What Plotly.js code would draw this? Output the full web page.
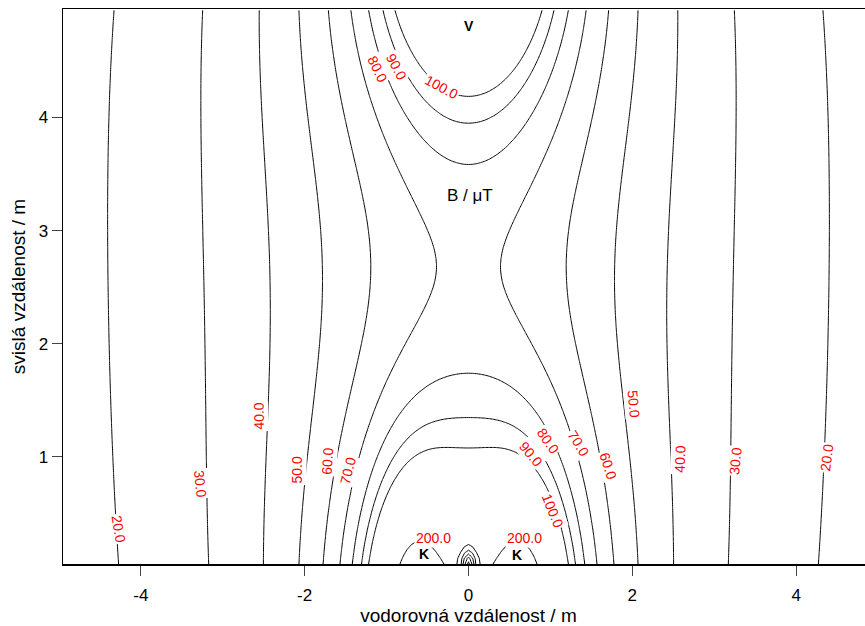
<!DOCTYPE html>
<html><head><meta charset="utf-8">
<script src="https://cdn.plot.ly/plotly-3.0.1.min.js"></script>
<style>html,body{margin:0;padding:0;overflow:hidden;background:#fff}#chart{width:880px;height:626px}</style>
</head><body><div id="chart"></div>
<script>
// contour levels (µT)
const lowLevels = [20, 30, 40, 50, 60, 70, 80, 90, 100];
const highLevels = [200, 300, 400, 500, 600, 700];
const xTickVals = [-4, -2, 0, 2, 4];
const xTickText = ['-4', '-2', '0', '2', '4'];
const yTickVals = [1, 2, 3, 4];
const yTickText = ['1', '2', '3', '4'];
const xTitle = 'vodorovná vzdálenost / m';
const yTitle = 'svislá vzdálenost / m';
const fieldLabel = 'B / μT';
const markNames = ['V', 'K', 'K'];
const markX = [0, -0.54, 0.59];
const markY = [4.81, 0.14, 0.13];
// contour value labels as placed in the picture (text, x, y, angle in degrees clockwise)
const labelText = ['80.0', '90.0', '100.0', '80.0', '90.0', '70.0', '60.0', '100.0', '50.0', '40.0', '30.0', '20.0',
  '40.0', '50.0', '60.0', '70.0', '30.0', '20.0', '200.0', '200.0'];
const labelX = [-1.11, -0.875, -0.33, 0.97, 0.76, 1.34, 1.71, 1.03, 2.01, 2.58, 3.26, 4.37,
  -2.56, -2.09, -1.72, -1.47, -3.27, -4.27, -0.43, 0.68];
const labelY = [4.43, 4.45, 4.27, 1.135, 1.02, 1.12, 0.92, 0.52, 1.47, 0.98, 0.96, 0.99,
  1.36, 0.88, 0.96, 0.87, 0.76, 0.36, 0.28, 0.28];
const labelAngle = [64, 62, 28, 55, 50, 58, 72, 68, 85, -88, -84, -83,
  -91, -90, -86, -76, 84, 81, 0, 0];

// contour crossings: level (µT), |x| (m), y (m), weight
const readLevel = [100,90,80,70,60,50,40,30,20, 80,90,100, 100,90,80, 70,70,70, 60,50,40,30,20, 74,
  80,90,100, 80,90,70,60,50,40,30,20,40,30,20,
  100,90,80,70,60,50,40,30,20,
  200,200,200,200,200,260, 200,300,400,500,600,200, 170,150];
const readX = [0.95,1.08,1.24,1.44,1.68,2.0,2.45,3.11,4.24, 1.12,0.875,0.33, 0,0,0, 0.84,0.41,0.62, 1.26,1.87,2.52,3.33,4.52, 0,
  0,0,0, 1.09,0.77,1.36,1.70,2.0,2.54,3.27,4.27,2.6,3.27,4.39,
  1.2,1.29,1.42,1.56,1.76,2.0,2.43,3.06,4.15,
  0.30,0.83,0.70,0.35,0.50,0.57, 0,0,0,0,0,0.13, 0.2,1.0];
const readY = [4.96,4.96,4.96,4.96,4.96,4.96,4.96,4.96,4.96, 4.43,4.445,4.25, 4.21,3.98,3.62, 3.53,2.73,2.2, 2.73,2.73,2.73,2.73,2.73, 2.73,
  1.72,1.32,1.04, 1.03,1.03,1.0,0.9,1.5,1.36,0.8,0.6,0.99,0.91,1.0,
  0.06,0.06,0.06,0.06,0.06,0.06,0.06,0.06,0.06,
  0.06,0.06,0.24,0.21,0.29,0.05, 0.21,0.174,0.139,0.109,0.08,0.06, 0.06,0.06];
const readWeight = [1,1,1,1,1,1,1,1,1.5, 1,1,1.5, 4,4,4, 1,1.5,1, 1,1,1,1,1.5, 0.5,
  1.5,1.5,1.5, 1,1,1,1,1,1,1,1,1,1,1,
  1,1,1,1,1,1,1,1,1.5,
  0.8,0.8,0.6,0.6,0.6,0.5, 0.5,0.4,0.4,0.4,0.4,1.2, 0.5,0.3];

// field model fitted to the readings: line above (V), cable pair (K), broad lower source, narrow bump at the centre
function S(A, c, al, q, dx, dy) {
  const r = Math.sqrt(al * dx * dx + dy * dy + 1e-6);
  return A / (r * Math.pow(1 + (r / c) * (r / c), q / 2));
}
function field(p, x, y) {
  const e = Math.exp;
  const gx = x / e(p[15]), gy = (y - p[14]) / e(p[16]);
  return S(e(p[1]), e(p[2]), e(p[3]), p[17], x, y - p[0]) +
    S(e(p[4]), e(p[7]), e(p[8]), 1, x - p[5], y - p[6]) +
    S(e(p[4]), e(p[7]), e(p[8]), 1, x + p[5], y - p[6]) +
    S(e(p[9]), e(p[11]), e(p[12]), p[18], x, y - p[10]) +
    e(p[13]) * Math.exp(-0.5 * (gx * gx + gy * gy));
}
function cost(p) {
  let s = 0;
  for (let i = 0; i < readLevel.length; i++) {
    const b = field(p, readX[i], readY[i]);
    const d = Math.log(b) - Math.log(readLevel[i]);
    s += readWeight[i] * d * d;
  }
  const pen = (v) => (v > 0 ? 1000 * v * v : 0);
  s += pen(5.0 - p[0]) + pen(p[6] - 0.0) + pen(p[10] - 0.0) + pen(p[14] - 0.05);
  s += pen(Math.abs(p[3]) - 2) + pen(Math.abs(p[8]) - 1.5) + pen(Math.abs(p[12]) - 2) + pen(p[5] - 0.8) + pen(0.35 - p[5]);
  s += pen(p[15] + 1.5) + pen(p[16] + 1.5) + pen(-4 - p[15]) + pen(-4 - p[16]);
  s += pen(p[17] - 2) + pen(-0.5 - p[17]) + pen(p[18] - 2) + pen(-0.5 - p[18]);
  return s;
}
function nelderMead(f, x0, steps, maxIt) {
  const n = x0.length;
  let sx = [x0.slice()];
  for (let i = 0; i < n; i++) { const v = x0.slice(); v[i] += steps[i]; sx.push(v); }
  let fv = sx.map(f);
  for (let it = 0; it < maxIt; it++) {
    const idx = [...Array(n + 1).keys()].sort((a, b) => fv[a] - fv[b]);
    sx = idx.map(i => sx[i]); fv = idx.map(i => fv[i]);
    const c = new Array(n).fill(0);
    for (let i = 0; i < n; i++) for (let j = 0; j < n; j++) c[j] += sx[i][j] / n;
    const w = sx[n];
    const xr = c.map((cj, j) => cj + (cj - w[j])); const fr = f(xr);
    if (fr < fv[0]) {
      const xe = c.map((cj, j) => cj + 2 * (cj - w[j])); const fe = f(xe);
      if (fe < fr) { sx[n] = xe; fv[n] = fe; } else { sx[n] = xr; fv[n] = fr; }
    } else if (fr < fv[n - 1]) { sx[n] = xr; fv[n] = fr; }
    else {
      const xc = fr < fv[n] ? c.map((cj, j) => cj + 0.5 * (xr[j] - cj)) : c.map((cj, j) => cj + 0.5 * (w[j] - cj));
      const fc = f(xc);
      if (fc < Math.min(fr, fv[n])) { sx[n] = xc; fv[n] = fc; }
      else { for (let i = 1; i <= n; i++) { sx[i] = sx[i].map((v, j) => sx[0][j] + 0.5 * (v - sx[0][j])); fv[i] = f(sx[i]); } }
    }
  }
  let b = 0; for (let i = 1; i <= n; i++) if (fv[i] < fv[b]) b = i;
  return { x: sx[b], f: fv[b] };
}
let best = { x: [5.7, 4.8, 1.23, 0.59, 2.97, 0.6, -0.1, -0.3, 0, 5.26, -1.52, 1.95, 1.5, 6.4, 0.0, -2.8, -2.4, 1, 1] };
best.f = cost(best.x);
const stepSizes = [0.2, 0.3, 0.3, 0.3, 0.3, 0.05, 0.05, 0.3, 0.3, 0.5, 0.3, 0.3, 0.3, 0.3, 0.03, 0.2, 0.2, 0.3, 0.3];
for (let k = 0; k < 14; k++) {
  const r = nelderMead(cost, best.x, stepSizes.map(s => s * (k % 2 ? 0.4 : 1)), 4000);
  if (r.f < best.f) best = r;
}
const P = best.x;

// grid of field values (0.05 m spacing)
const gridX = []; for (let i = 0; i < 199; i++) gridX.push(-4.95 + 0.05 * i);
const gridY = []; for (let j = 0; j < 99; j++) gridY.push(0.05 + 0.05 * j);
const gridZ = gridY.map(y => gridX.map(x => field(P, x, y)));

const font = 'Liberation Sans, Arial, sans-serif';
function contourTrace(levels) {
  return {
    type: 'contour', x: gridX, y: gridY, z: gridZ, showscale: false, hoverinfo: 'skip',
    autocontour: false,
    contours: { coloring: 'none', start: levels[0], end: levels[levels.length - 1], size: levels[1] - levels[0], showlabels: false },
    line: { color: '#000', width: 1, smoothing: 0 }
  };
}
const annotations = markNames.map((t, i) => ({ x: markX[i], y: markY[i], text: '<b>' + t + '</b>', showarrow: false,
  font: { family: font, size: 14, color: '#000' } }));
labelText.forEach((t, i) => annotations.push({ x: labelX[i], y: labelY[i], text: t, textangle: labelAngle[i], showarrow: false,
  bgcolor: '#fff', borderpad: 1, font: { family: font, size: 14, color: '#ff0000' } }));
annotations.push({ x: 0.02, y: 3.31, text: fieldLabel, showarrow: false, font: { family: font, size: 17, color: '#000' } });
const layout = {
  width: 880, height: 626, margin: { l: 63, r: 6, t: 9, b: 62 }, showlegend: false,
  paper_bgcolor: '#fff', plot_bgcolor: '#fff', font: { family: font, size: 17, color: '#000' },
  xaxis: { range: [-4.95, 4.95], tickvals: xTickVals, ticktext: xTickText, ticks: 'outside', ticklen: 10, tickcolor: '#444',
    ticklabelstandoff: 5, tickfont: { family: font, size: 17 },
    showline: true, mirror: true, linecolor: '#000', linewidth: 1.5, showgrid: false, zeroline: false,
    title: { text: xTitle, font: { family: font, size: 19 }, standoff: 2 } },
  yaxis: { range: [0.05, 4.96], tickvals: yTickVals, ticktext: yTickText, ticks: 'outside', ticklen: 10, tickcolor: '#444',
    tickfont: { family: font, size: 17 },
    showline: true, mirror: true, linecolor: '#000', linewidth: 1.5, showgrid: false, zeroline: false,
    title: { text: yTitle, font: { family: font, size: 19 }, standoff: 8 } },
  annotations: annotations
};
Plotly.newPlot('chart', [contourTrace(lowLevels), contourTrace(highLevels)], layout, { staticPlot: true, displayModeBar: false });
</script></body></html>
